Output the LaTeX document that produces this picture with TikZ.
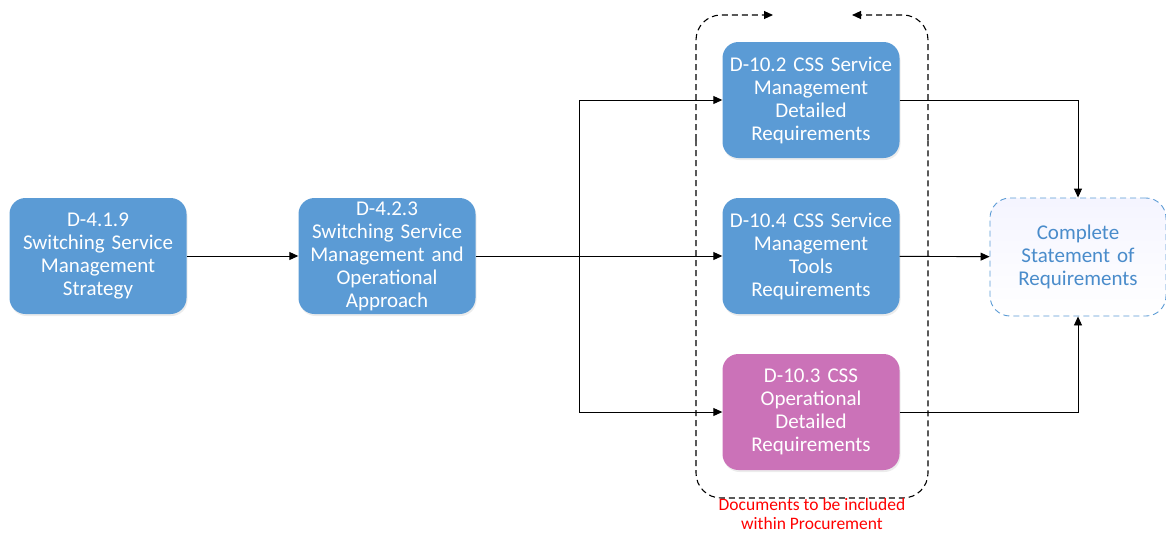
\documentclass[tikz,border=0pt]{standalone}
\usepackage{fontspec}
\setmainfont{Carlito}
\usetikzlibrary{arrows.meta,shadows}
\definecolor{boxblue}{HTML}{5B9BD5}
\definecolor{boxpink}{HTML}{CB72B8}
\definecolor{dtext}{HTML}{4A8CCB}
\tikzset{
  doc/.style={draw=none, fill=boxblue, rounded corners=16pt, minimum width=177pt, minimum height=116pt,
    inner sep=0pt, text width=175pt, align=center, text=white, font=\fontsize{21}{23}\selectfont,
    drop shadow={opacity=0.15, shadow xshift=1pt, shadow yshift=-2pt}},
  goal/.style={draw=boxblue, dashed, dash pattern=on 6pt off 4pt, line width=0.9pt, rounded corners=20pt,
    top color=blue!4!white, bottom color=white, minimum width=176pt, minimum height=118pt,
    inner sep=0pt, text width=174pt, align=center, text=dtext, font=\fontsize{21}{23}\selectfont},
  conn/.style={draw=black, line width=0.9pt, -{Triangle[length=9pt,width=8pt]}},
  plain/.style={draw=black, line width=0.9pt},
  cont/.style={draw=black, line width=1.1pt, dash pattern=on 6pt off 4pt, rounded corners=25pt},
}
\begin{document}
\begin{tikzpicture}[x=1pt,y=-1pt]
\useasboundingbox (0,0) rectangle (1166,533);
\node[doc] (a) at (98,256) {D-4.1.9\\Switching Service\\Management\\Strategy};
\node[doc] (b) at (387,256) {D-4.2.3\\Switching Service\\Management and\\Operational\\Approach};
\node[doc] (c1) at (811,100) {D-10.2 CSS Service\\Management\\Detailed\\Requirements};
\node[doc] (c2) at (811,256) {D-10.4 CSS Service\\Management\\Tools\\Requirements};
\node[doc, fill=boxpink] (c3) at (811,412) {D-10.3 CSS\\Operational\\Detailed\\Requirements};
\node[goal] (d) at (1078,257) {Complete\\Statement of\\Requirements};
% container
\coordinate (tl) at (773,15);
\coordinate (tr) at (852,15);
\draw[cont, -{Triangle[length=9pt,width=8pt]}] (696,140) -- (696,15) -- (tl);
\draw[cont, -{Triangle[length=9pt,width=8pt]}] (928,140) -- (928,15) -- (tr);
\draw[cont] (696,140) -- (696,498) -- (928,498) -- (928,140);
\node[text=red, align=center, inner sep=0pt, font=\fontsize{17.5}{18.5}\selectfont] (lab) at (812,514) {Documents to be included\\within Procurement};
% connectors
\coordinate (j1) at (579,100);
\coordinate (j3) at (579,412);
\draw[conn] (a) -- (b);
\draw[conn] (b) -- (c2);
\draw[plain] (j1) -- (j3);
\draw[conn] (j1) -- (c1);
\draw[conn] (j3) -- (c3);
\draw[conn] (c1.east) -| (d.north);
\draw[conn] (c2) -- (d);
\draw[conn] (c3.east) -| (d.south);
\end{tikzpicture}
\end{document}
